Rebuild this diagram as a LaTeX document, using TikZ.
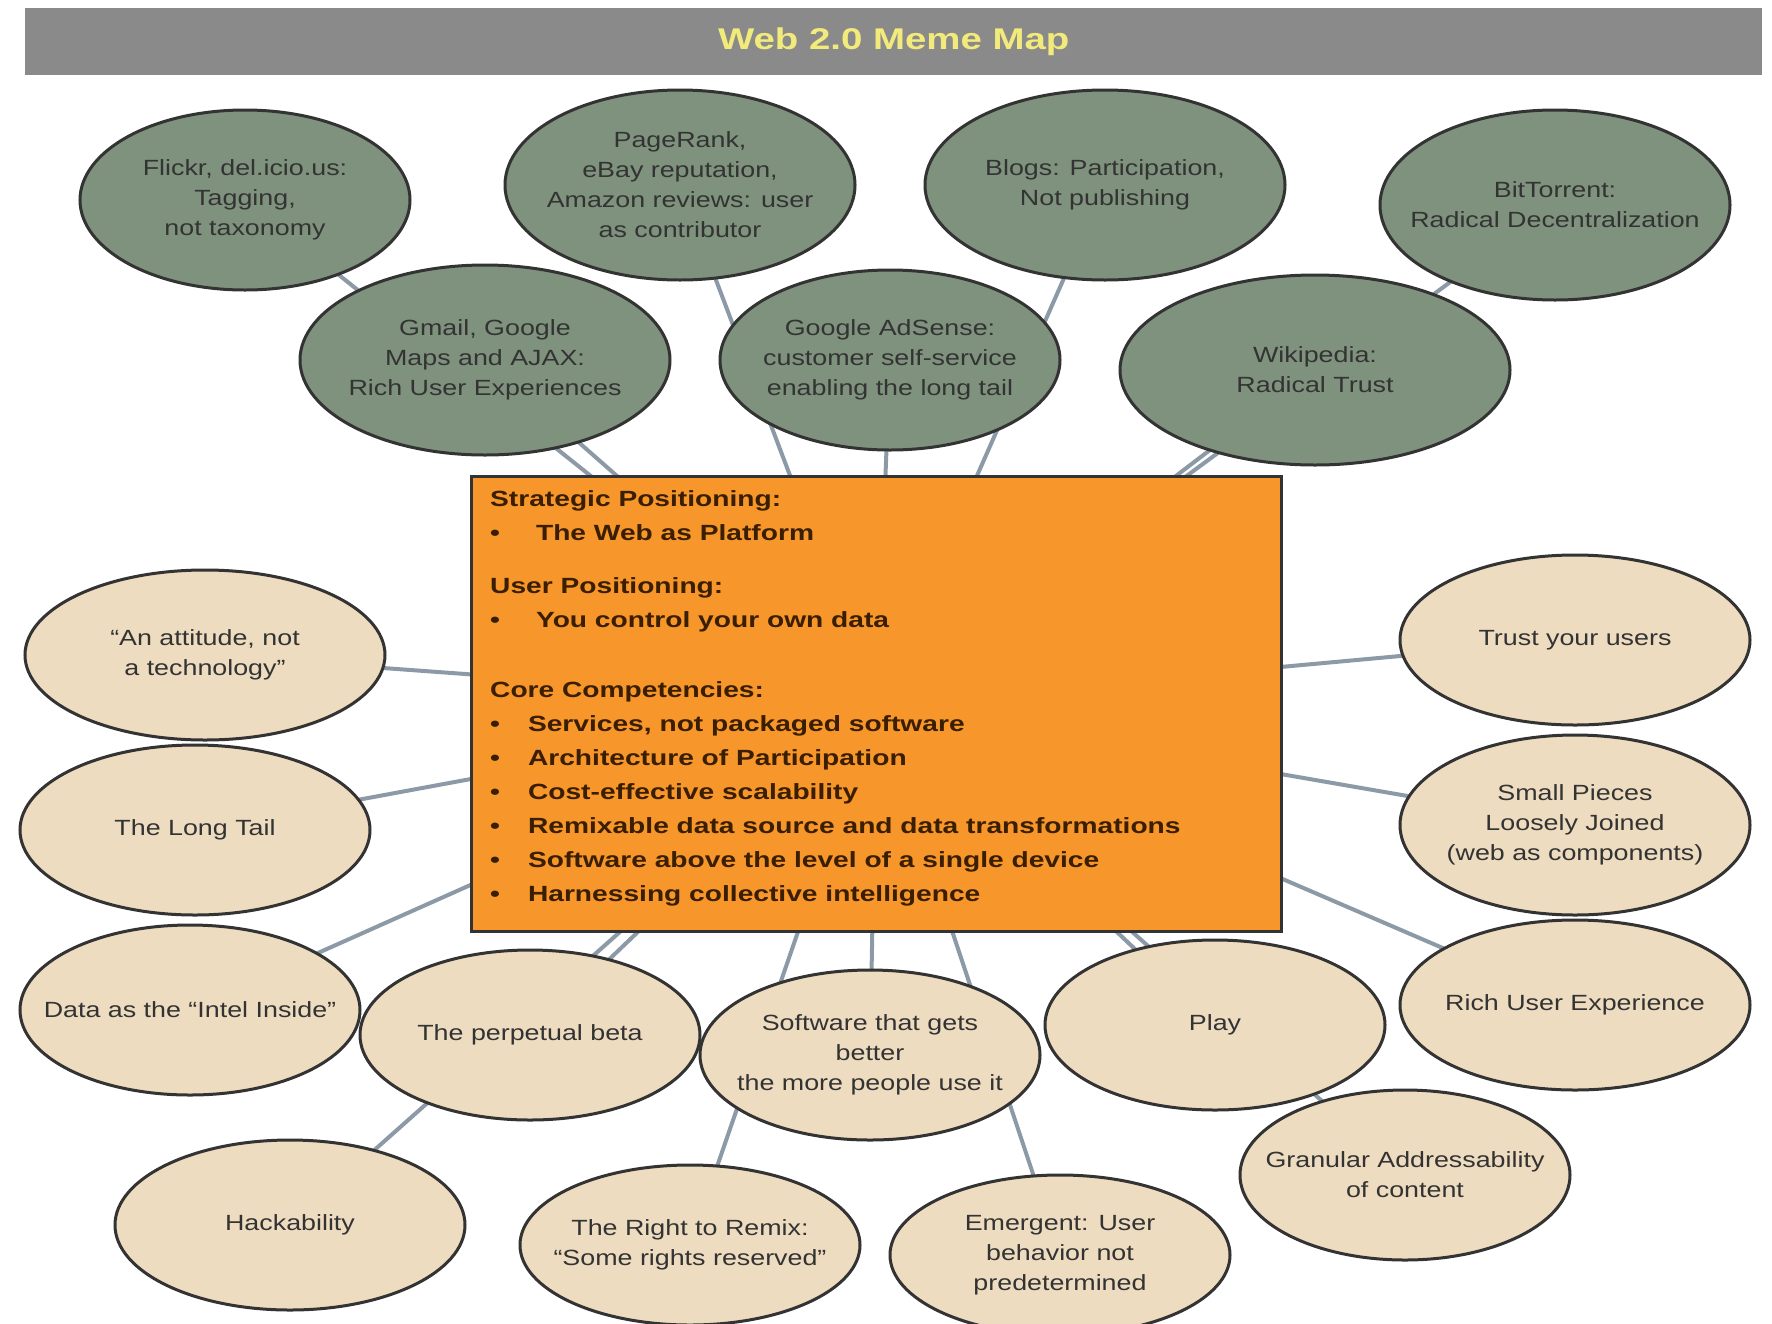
\documentclass[tikz,border=0pt]{standalone}
\usepackage{fontspec}
\setmainfont[Ligatures=TeX]{Liberation Sans}
\newfontfamily\widefont[FakeStretch=1.28,Ligatures=TeX]{Liberation Sans}
\newfontfamily\elfont[FakeStretch=1.22,Ligatures=TeX]{Liberation Sans}
\usetikzlibrary{shapes.geometric,backgrounds}
\definecolor{titlegray}{HTML}{8A8A8A}
\definecolor{titleyel}{HTML}{F2EA7A}
\definecolor{greenfill}{HTML}{7F927E}
\definecolor{tanfill}{HTML}{EEDCC0}
\definecolor{boxfill}{HTML}{F7962A}
\definecolor{linecol}{HTML}{8C9AA8}
\definecolor{boxtext}{HTML}{3A1E00}
\tikzset{
 el/.style={ellipse,draw=black!80,line width=3pt,inner xsep=-200pt,inner ysep=-100pt,align=center,
   font=\elfont\fontsize{22}{30}\selectfont,text=black!80},
 gr/.style={el,fill=greenfill},
 tn/.style={el,fill=tanfill},
 conn/.style={draw=linecol,line width=4pt}
}
\begin{document}
\begin{tikzpicture}[x=1pt,y=-1pt]
\useasboundingbox (0,0) rectangle (1772,1323);
\node[fill=titlegray,minimum width=1737pt,minimum height=67pt,anchor=north west,inner sep=0pt,
  font=\widefont\fontsize{30}{34}\selectfont\bfseries,text=titleyel] (title) at (25,8) {Web 2.0 Meme Map};
% top green
\node[gr,minimum width=330pt,minimum height=180pt] (flickr) at (245,200) {Flickr, del.icio.us:\\Tagging,\\not taxonomy};
\node[gr,minimum width=350pt,minimum height=190pt] (pagerank) at (680,185) {PageRank,\\eBay reputation,\\Amazon reviews: user\\as contributor};
\node[gr,minimum width=360pt,minimum height=190pt] (blogs) at (1105,185) {Blogs: Participation,\\Not publishing};
\node[gr,minimum width=350pt,minimum height=190pt] (bit) at (1555,205) {BitTorrent:\\Radical Decentralization};
\node[gr,minimum width=370pt,minimum height=190pt] (gmail) at (485,360) {Gmail, Google\\Maps and AJAX:\\Rich User Experiences};
\node[gr,minimum width=340pt,minimum height=180pt] (adsense) at (890,360) {Google AdSense:\\customer self-service\\enabling the long tail};
\node[gr,minimum width=390pt,minimum height=190pt] (wiki) at (1315,370) {Wikipedia:\\Radical Trust};
% box
\node[draw=black!80,line width=3pt,fill=boxfill,minimum width=810pt,minimum height=455pt,anchor=north west,inner sep=0pt] (box) at (470,475) {};
\node[anchor=north west,align=left,text=boxtext,font=\widefont\fontsize{22}{34}\selectfont\bfseries,inner sep=0pt] (boxtxt) at (490,490) {%
Strategic Positioning:\\
\textbullet\hspace{36pt}The Web as Platform\\[19pt]
User Positioning:\\
\textbullet\hspace{36pt}You control your own data\\[36pt]
Core Competencies:\\
\textbullet\hspace{28pt}Services, not packaged software\\
\textbullet\hspace{28pt}Architecture of Participation\\
\textbullet\hspace{28pt}Cost-effective scalability\\
\textbullet\hspace{28pt}Remixable data source and data transformations\\
\textbullet\hspace{28pt}Software above the level of a single device\\
\textbullet\hspace{28pt}Harnessing collective intelligence};
% tan
\node[tn,minimum width=360pt,minimum height=170pt] (att) at (205,655) {“An attitude, not\\a technology”};
\node[tn,minimum width=350pt,minimum height=170pt] (long) at (195,830) {The Long Tail};
\node[tn,minimum width=340pt,minimum height=170pt] (intel) at (190,1010) {Data as the “Intel Inside”};
\node[tn,minimum width=340pt,minimum height=170pt] (beta) at (530,1035) {The perpetual beta};
\node[tn,minimum width=340pt,minimum height=170pt] (better) at (870,1055) {Software that gets\\better\\the more people use it};
\node[tn,minimum width=340pt,minimum height=170pt] (play) at (1215,1025) {Play};
\node[tn,minimum width=350pt,minimum height=170pt] (rich) at (1575,1005) {Rich User Experience};
\node[tn,minimum width=350pt,minimum height=170pt] (trust) at (1575,640) {Trust your users};
\node[tn,minimum width=350pt,minimum height=180pt] (small) at (1575,825) {Small Pieces\\Loosely Joined\\(web as components)};
\node[tn,minimum width=330pt,minimum height=170pt] (gran) at (1405,1175) {Granular Addressability\\of content};
\node[tn,minimum width=350pt,minimum height=170pt] (hack) at (290,1225) {Hackability};
\node[tn,minimum width=340pt,minimum height=160pt] (remix) at (690,1245) {The Right to Remix:\\“Some rights reserved”};
\node[tn,minimum width=340pt,minimum height=160pt] (emerg) at (1060,1255) {Emergent: User\\behavior not\\predetermined};
\begin{scope}[on background layer]
\fill[white] (0,0) rectangle (1772,1323);
\foreach \e in {flickr,pagerank,blogs,bit,gmail,adsense,wiki,att,long,intel,beta,better,play,rich,trust,small,gran,hack,remix,emerg}
  \draw[conn] (\e.center) -- (box.center);
\end{scope}
\end{tikzpicture}
\end{document}
